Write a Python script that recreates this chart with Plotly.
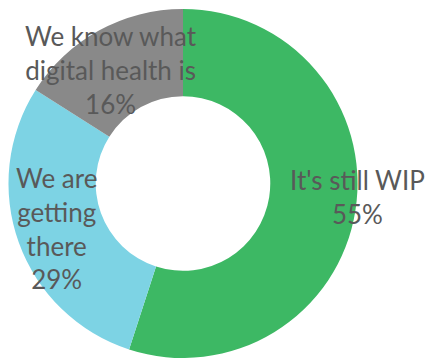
import math
import plotly.graph_objects as go

labels = ["It's still WIP", "We are<br>getting<br>there", "We know what<br>digital health is"]
values = [55, 29, 16]
colors = ["#3DB864", "#7DD3E4", "#898989"]

W, H = 431, 358
dom_x = [0.0186, 0.8306]
dom_y = [0.0, 0.975]
label_radius = [1.0, 0.77, 0.79]   # fraction of outer radius for each label
label_nudge = [(2, 14), (0, 0), (-6, -7)]  # small pixel shifts (x, y-up)

fig = go.Figure(go.Pie(
    labels=labels,
    values=values,
    hole=0.5,
    sort=False,
    direction="clockwise",
    rotation=0,
    marker=dict(colors=colors, line=dict(width=0)),
    textinfo="none",
    domain=dict(x=dom_x, y=dom_y),
    showlegend=False,
    hoverinfo="skip",
))

# Place each label at the middle angle of its slice
cx = (dom_x[0] + dom_x[1]) / 2 * W
cy = (dom_y[0] + dom_y[1]) / 2 * H
R = min((dom_x[1] - dom_x[0]) * W, (dom_y[1] - dom_y[0]) * H) / 2
total = sum(values)
cum = 0
for lab, v, rf, (nx, ny) in zip(labels, values, label_radius, label_nudge):
    mid = (cum + v / 2) / total * 2 * math.pi
    cum += v
    px = cx + rf * R * math.sin(mid)
    py = cy + rf * R * math.cos(mid)
    fig.add_annotation(
        x=px / W, y=py / H, xref="paper", yref="paper",
        xshift=nx, yshift=ny,
        text=f"{lab}<br>{round(v / total * 100)}%",
        showarrow=False, xanchor="center", yanchor="middle",
        font=dict(family="Lato", size=26, color="#595959"),
    )

fig.update_layout(
    width=W, height=H,
    margin=dict(l=0, r=0, t=0, b=0),
    paper_bgcolor="white",
    plot_bgcolor="white",
)

fig.write_html("out.html")
